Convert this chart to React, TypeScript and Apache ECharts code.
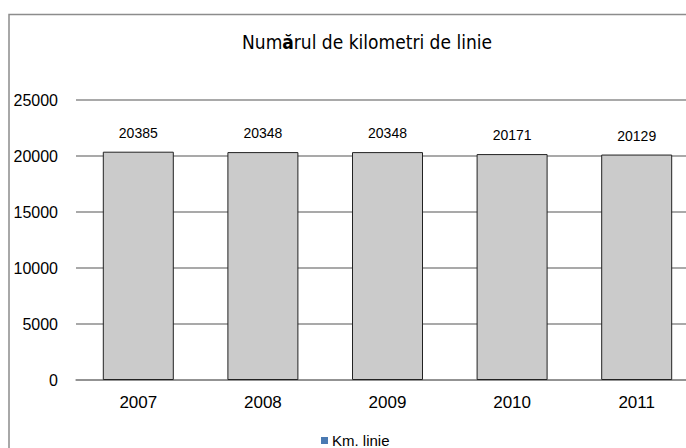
import React, { useEffect, useRef } from "react";
import * as echarts from "echarts";

const categories = ["2007", "2008", "2009", "2010", "2011"];
const kmValues = [20385, 20348, 20348, 20171, 20129];
const seriesName = "Km. linie";

const titleFont = "'DejaVu Sans Condensed', 'Liberation Sans', sans-serif";

export default function App() {
  const ref = useRef<HTMLDivElement>(null);
  useEffect(() => {
    if (!ref.current) return;
    document.body.style.overflow = "hidden";
    const chart = echarts.init(ref.current, undefined, { renderer: "svg" });
    chart.setOption({
      animation: false,
      backgroundColor: "#ffffff",
      graphic: [
        {
          type: "rect",
          shape: { x: 9, y: 14.5, width: 720, height: 460 },
          style: { fill: "none", stroke: "#8c8c8c", lineWidth: 1.5 },
          silent: true,
          z: 0,
        },
      ],
      title: {
        text: "{a|Num}{b|ă}{a|rul de kilometri de linie}",
        left: 362,
        top: 27,
        textAlign: "center",
        textStyle: {
          fontWeight: "normal",
          rich: {
            a: { fontFamily: titleFont, fontSize: 19, fontWeight: "normal", color: "#000" },
            b: { fontFamily: titleFont, fontSize: 19, fontWeight: "bold", color: "#000" },
          },
        },
      },
      legend: {
        left: 316,
        top: 428,
        itemWidth: 7,
        itemHeight: 7,
        itemGap: 4,
        icon: "rect",
        textStyle: { fontFamily: "Liberation Sans", fontSize: 15, color: "#000", padding: [0, 0, 0, -1] },
        data: [{ name: seriesName, itemStyle: { color: "#4a7ab2", borderWidth: 0 } }],
      },
      grid: { left: 76, right: 1, top: 100, bottom: 68 },
      xAxis: {
        type: "category",
        data: categories,
        axisLine: { show: true, lineStyle: { color: "#8c8c8c", width: 1.5 } },
        axisTick: { show: false },
        axisLabel: { fontFamily: "Liberation Sans", fontSize: 17, color: "#000", margin: 14 },
      },
      yAxis: {
        type: "value",
        min: 0,
        max: 25000,
        interval: 5000,
        axisLine: { show: false },
        axisTick: { show: false },
        axisLabel: {
          fontFamily: "Liberation Sans",
          fontSize: 16,
          color: "#000",
          margin: 18,
          formatter: (v: number) => String(v),
        },
        splitLine: { lineStyle: { color: "#8c8c8c", width: 1.5 } },
      },
      series: [
        {
          name: seriesName,
          type: "bar",
          data: kmValues,
          barWidth: 71,
          itemStyle: { color: "#cbcbcb", borderColor: "#222", borderWidth: 1 },
          label: {
            show: true,
            position: "top",
            distance: 12,
            fontFamily: "Liberation Sans",
            fontSize: 14,
            color: "#000",
          },
        },
      ],
    });
    return () => chart.dispose();
  }, []);
  return (
    <div
      ref={ref}
      style={{ position: "fixed", left: 0, top: 0, width: 700, height: 448 }}
    />
  );
}
